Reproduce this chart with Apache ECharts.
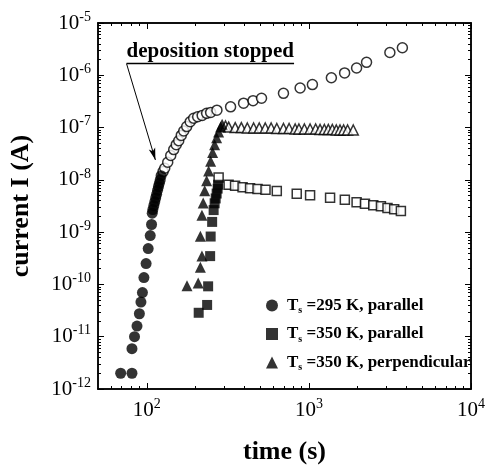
<!DOCTYPE html>
<html><head><meta charset="utf-8">
<script src="https://cdn.jsdelivr.net/npm/echarts@6/dist/echarts.min.js"></script>
<style>html,body{margin:0;padding:0;background:#fff}#c{width:488px;height:470px}</style>
</head><body><div id="c"></div>
<script>
// ---- data (time in s, current in A) ----
const filled295 = [[69,2.0e-12],[81,2.0e-12],[81,5.9e-12],[84,1.0e-11],[87,1.6e-11],[90,2.75e-11],[92,4.6e-11],[94,7.0e-11],[96,1.35e-10],[99,2.5e-10],[102,4.85e-10],[105,8.6e-10],[107,1.4e-9],[108,2.3e-9],[109,2.7e-9],[110.5,3.2e-9],[112,3.8e-9],[113.5,4.5e-9],[115,5.3e-9],[116.5,6.3e-9],[118,7.4e-9],[119.5,8.6e-9],[121,1.0e-8],[122.5,1.2e-8]];
const open295 = [[126,1.44e-8],[129,1.67e-8],[134.6,2.17e-8],[140.5,2.93e-8],[146.6,3.79e-8],[151.9,4.71e-8],[157.4,5.6e-8],[163.1,7.08e-8],[169,8.6e-8],[176.3,1.045e-7],[185.2,1.29e-7],[194.6,1.51e-7],[206,1.61e-7],[219.6,1.71e-7],[234,1.87e-7],[247.7,1.95e-7],[270.8,2.15e-7],[328.8,2.49e-7],[395.4,2.93e-7],[452.3,3.27e-7],[510.3,3.64e-7],[696.8,4.51e-7],[882.9,5.71e-7],[1051,6.64e-7],[1376,8.97e-7],[1661,1.11e-6],[1969,1.38e-6],[2268,1.77e-6],[3159,2.73e-6],[3773,3.37e-6]];
const filled350par = [[209,2.87e-11],[235.6,4.05e-11],[239,9.2e-11],[245.9,3.48e-10],[247.7,8.24e-10],[253,1.57e-9],[258.4,2.64e-9],[262.1,3.56e-9],[266,4.41e-9],[269.7,5.47e-9],[273.5,6.8e-9],[275.4,8.07e-9]];
const open350par = [[277.4,1.11e-8],[319.6,8.07e-9],[350.4,7.72e-9],[389.8,7.24e-9],[433.5,6.93e-9],[482.1,6.70e-9],[539.9,6.50e-9],[633.8,6.10e-9],[841.3,5.41e-9],[1017,5.07e-9],[1351,4.55e-9],[1666,4.18e-9],[1969,3.72e-9],[2217,3.51e-9],[2495,3.27e-9],[2782,3.13e-9],[3054,2.91e-9],[3358,2.75e-9],[3694,2.55e-9]];
const filled350perp = [[177,9.4e-11],[207.5,1.07e-10],[214,2.14e-10],[218.9,3.5e-10],[214,8.3e-10],[218.9,2.1e-9],[222.7,3.6e-9],[227.5,6.2e-9],[234,9.6e-9],[240.7,1.47e-8],[247.7,2.26e-8],[254.8,3.33e-8],[262,4.7e-8],[269.7,6.4e-8],[277.4,8.2e-8],[285.4,1.02e-7],[291.5,1.16e-7]];
const open350perp = [[306,1.07e-7],[320,1.02e-7],[351,1.0e-7],[383,1.0e-7],[417,9.8e-8],[456,9.8e-8],[494,9.8e-8],[538,9.8e-8],[585,9.8e-8],[634,9.6e-8],[697,9.6e-8],[755,9.6e-8],[823,9.4e-8],[868,9.4e-8],[938,9.4e-8],[1017,9.4e-8],[1101,9.4e-8],[1172,9.2e-8],[1246,9.2e-8],[1318,9.2e-8],[1395,9.2e-8],[1476,9.0e-8],[1556,9.0e-8],[1638,9.0e-8],[1733,9.0e-8],[1878,9.0e-8]];

const legendNames = ['295 K, parallel','350 K, parallel','350 K, perpendicular'];
const xRange = [50, 10000];
const yRange = [1e-12, 1e-5];
const xMajorTicks = [100, 1000, 10000];
const yMajorTicks = [1e-12,1e-11,1e-10,1e-9,1e-8,1e-7,1e-6,1e-5];
const xMinorTicks = [60,70,80,90,200,300,400,500,600,700,800,900,2000,3000,4000,5000,6000,7000,8000,9000];
const yMinorTicks = [];
for (let e = -12; e < -5; e++) for (let k = 2; k <= 9; k++) yMinorTicks.push(k * Math.pow(10, e));
const annotationText = 'deposition stopped';
const underlineStart = [75, 1.67e-6], underlineEnd = [810, 1.67e-6];
const arrowTip = [113, 2.4e-8];

const FONT = "'Liberation Serif','Times New Roman',serif";
const L = Math.log10;
const expRich = {
  b: {fontFamily: FONT, fontSize: 21, color: '#000', lineHeight: 26},
  e: {fontFamily: FONT, fontSize: 14, color: '#000', lineHeight: 14, verticalAlign: 'top'}
};
const expFmt = v => '{b|10}{e|' + Math.round(v) + '}';

function helperX(pos, major, labels, name) {
  return {
    type: 'value', gridIndex: 0, position: pos, min: L(xRange[0]), max: L(xRange[1]),
    axisLine: {show: true, onZero: false, lineStyle: {color: '#000', width: 1.5}},
    axisTick: {show: true, inside: true, length: major ? 6 : 3, customValues: (major ? xMajorTicks : xMinorTicks).map(L), lineStyle: {color: '#000', width: 1}},
    axisLabel: labels ? {show: true, customValues: xMajorTicks.map(L), formatter: expFmt, rich: expRich, margin: 8} : {show: false},
    splitLine: {show: false},
    name: name || '', nameLocation: 'middle', nameGap: 50,
    nameTextStyle: {fontFamily: FONT, fontSize: 26, fontWeight: 'bold', color: '#000'}
  };
}
function helperY(pos, major, labels, name) {
  return {
    type: 'value', gridIndex: 0, position: pos, min: L(yRange[0]), max: L(yRange[1]),
    axisLine: {show: true, onZero: false, lineStyle: {color: '#000', width: 1.5}},
    axisTick: {show: true, inside: true, length: major ? 6 : 3, customValues: (major ? yMajorTicks : yMinorTicks).map(L), lineStyle: {color: '#000', width: 1}},
    axisLabel: labels ? {show: true, customValues: yMajorTicks.map(L), formatter: expFmt, rich: expRich, margin: 7} : {show: false},
    splitLine: {show: false},
    name: name || '', nameLocation: 'middle', nameGap: 64,
    nameTextStyle: {fontFamily: FONT, fontSize: 26, fontWeight: 'bold', color: '#000'}
  };
}

const filledStyle = {color: '#000'};
const openStyle = {color: '#fff', borderColor: '#000', borderWidth: 1.5};

const chart = echarts.init(document.getElementById('c'), null, {renderer: 'canvas'});
chart.setOption({
  animation: false,
  backgroundColor: '#fff',
  grid: {left: 98, right: 14, top: 23, bottom: 72, containLabel: false},
  xAxis: [
    {type: 'log', logBase: 10, min: xRange[0], max: xRange[1], show: false},
    helperX('bottom', true, true, 'time (s)'),
    helperX('bottom', false, false),
    helperX('top', true, false),
    helperX('top', false, false)
  ],
  yAxis: [
    {type: 'log', logBase: 10, min: yRange[0], max: yRange[1], show: false},
    helperY('left', true, true, 'current I (A)'),
    helperY('left', false, false),
    helperY('right', true, false),
    helperY('right', false, false)
  ],
  legend: {
    data: legendNames, orient: 'vertical', left: 261, top: 292,
    itemWidth: 12, itemHeight: 12, itemGap: 10,
    formatter: n => '{t|T}{s|s}{r| =' + n + '}',
    textStyle: {
      padding: [0, 0, 0, 4],
      rich: {
        t: {fontFamily: FONT, fontSize: 17, fontWeight: 'bold', color: '#000', lineHeight: 20},
        s: {fontFamily: FONT, fontSize: 10, fontWeight: 'bold', color: '#000', lineHeight: 10, verticalAlign: 'bottom'},
        r: {fontFamily: FONT, fontSize: 17, fontWeight: 'bold', color: '#000', lineHeight: 20}
      }
    }
  },
  series: [
    {name: 'open295', type: 'scatter', xAxisIndex: 0, yAxisIndex: 0, data: open295, symbol: 'circle', symbolSize: 10, itemStyle: openStyle},
    {name: 'open350perp', type: 'scatter', xAxisIndex: 0, yAxisIndex: 0, data: open350perp, symbol: 'triangle', symbolSize: 10, itemStyle: openStyle},
    {name: 'open350par', type: 'scatter', xAxisIndex: 0, yAxisIndex: 0, data: open350par, symbol: 'rect', symbolSize: 9, itemStyle: openStyle},
    {name: legendNames[0], type: 'scatter', xAxisIndex: 0, yAxisIndex: 0, data: filled295, symbol: 'circle', symbolSize: 11, itemStyle: filledStyle,
     markLine: {
       silent: true, animation: false,
       lineStyle: {color: '#000', type: 'solid', width: 1.3},
       data: [
         [{coord: underlineStart, symbol: 'none',
           label: {show: true, formatter: annotationText, position: 'insideMiddleTop', distance: 2,
                   fontFamily: FONT, fontSize: 21, fontWeight: 'bold', color: '#000'}},
          {coord: underlineEnd, symbol: 'none'}],
         [{coord: underlineStart, symbol: 'none', label: {show: false}, lineStyle: {width: 1}},
          {coord: arrowTip, symbol: 'arrow', symbolSize: [5, 12]}]
       ]
     }},
    {name: legendNames[1], type: 'scatter', xAxisIndex: 0, yAxisIndex: 0, data: filled350par, symbol: 'rect', symbolSize: 10, itemStyle: filledStyle},
    {name: legendNames[2], type: 'scatter', xAxisIndex: 0, yAxisIndex: 0, data: filled350perp, symbol: 'triangle', symbolSize: 11, itemStyle: filledStyle}
  ]
});
</script></body></html>
